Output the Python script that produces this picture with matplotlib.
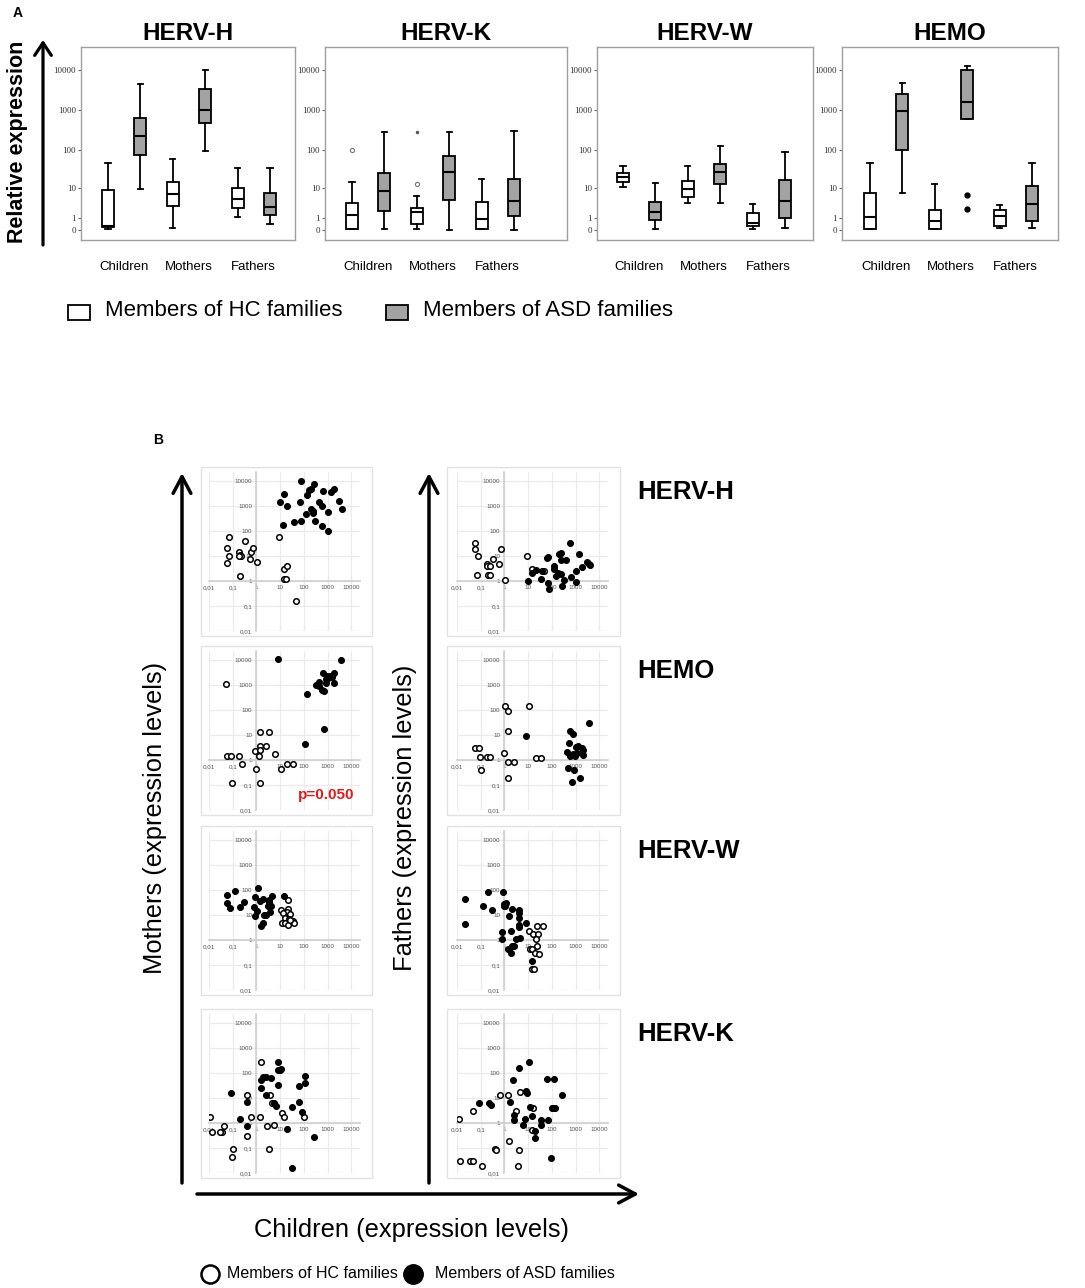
import numpy as np
import matplotlib
matplotlib.use('Agg')
import matplotlib.pyplot as plt
from matplotlib.patches import Rectangle, FancyArrowPatch
from matplotlib.lines import Line2D
from matplotlib.ticker import NullLocator

W, H = 1085, 1288
plt.rcParams['font.family'] = ['Liberation Sans', 'DejaVu Sans']

# ---------------- data: panel A (box stats: whislo, q1, med, q3, whishi) ----------------
groups = ['Children', 'Mothers', 'Fathers']
box_titles = ['HERV-H', 'HERV-K', 'HERV-W', 'HEMO']
# order: HC child, ASD child, HC mother, ASD mother, HC father, ASD father
herv_h_box = [[0.06, 0.19, 0.26, 9.0, 46], [9.6, 74, 223, 630, 4470],
              [0.12, 3.0, 6.9, 14.8, 58], [93, 472, 1000, 3350, 10000],
              [1.1, 2.5, 5.0, 10.2, 34], [0.41, 1.37, 2.76, 7.4, 34]]
herv_k_box = [[0.06, 0.06, 1.37, 3.7, 14.8], [0.06, 2.0, 8.4, 25.6, 281],
              [0.06, 0.41, 1.82, 2.55, 6.1], [0.0, 4.6, 27, 70, 281],
              [0.06, 0.06, 0.88, 4.0, 17.8], [0.0, 1.24, 4.3, 17.8, 298]]
herv_w_box = [[10.9, 14.8, 20.1, 25.6, 38.8], [0.06, 0.78, 1.8, 4.0, 14],
              [3.7, 5.7, 9.6, 15.8, 38.8], [3.7, 13.1, 27.2, 43.7, 125],
              [0.06, 0.26, 0.5, 1.66, 3.47], [0.12, 1.0, 4.3, 16.8, 88]]
hemo_box = [[0.06, 0.06, 1.11, 7.4, 46], [7.4, 99, 943, 2510, 4730],
            [0.06, 0.06, 0.68, 2.16, 13.1], [595, 595, 1585, 10000, 12600],
            [0.12, 0.26, 1.24, 2.16, 3.2], [0.12, 0.68, 3.47, 11.6, 46]]
herv_h_fliers = [[], [], [], [], [], []]
herv_k_fliers = [[100], [], [13.2], [], [], []]
herv_k_far = [[], [], [281], [], [], []]  # far outliers, drawn as tiny dots
herv_w_fliers = [[], [], [], [], [], []]
hemo_fliers = [[], [], [], [6.5, 2.35], [], []]
box_ticks = [0, 1, 10, 100, 1000, 10000]

# ---------------- data: panel B (x = children, y = parent) ----------------
hervh_m_hc = [(0.07, 57), (0.058, 21), (0.068, 10), (0.058, 5.2), (0.32, 40), (0.19, 15), (0.2, 11),
              (0.22, 10), (0.18, 10), (0.56, 15), (0.72, 21), (0.52, 7.8), (1.03, 5.9), (0.21, 1.6),
              (8.8, 57), (14.8, 3.1), (19.8, 3.9), (14.8, 1.24), (17.9, 1.24), (46, 0.16)]
hervh_m_asd = [(72, 10000), (265, 7800), (15, 3000), (9.4, 1450), (20, 970), (13, 174), (39, 223),
               (75, 260), (70, 1450), (138, 2700), (158, 4300), (192, 4800), (121, 480), (198, 780),
               (233, 650), (247, 525), (290, 260), (417, 1450), (590, 970), (655, 4100), (560, 154),
               (980, 575), (1070, 97), (1380, 3530), (1860, 4800), (3100, 1540), (3900, 740)]
hemo_m_hc = [(0.05, 1080), (0.058, 1.5), (0.088, 1.5), (0.18, 1.5), (0.24, 0.67), (0.094, 0.12),
             (0.88, 2.3), (1.38, 12.6), (3.3, 12.6), (1.34, 3.7), (1.38, 2.4), (1.25, 1.5), (2.6, 3.5),
             (6.1, 1.7), (1.0, 0.45), (1.34, 0.12), (10.3, 0.45), (20, 0.67), (34, 0.67)]
hemo_m_asd = [(8, 11300), (3550, 10000), (130, 455), (114, 4.4), (720, 17), (320, 1000), (430, 1300),
              (610, 3100), (590, 660), (720, 560), (830, 1660), (910, 2270), (1070, 1940), (1300, 2270),
              (830, 1150), (1470, 2140), (1910, 3100), (1860, 1150), (440, 950)]
hervw_m_hc = [(20.4, 40), (10.6, 15.8), (21, 17), (20, 13), (13.4, 11.7), (24.7, 10.5), (15.8, 7.8),
              (22.5, 7.1), (11.4, 4.8), (16.3, 5), (21, 3.9), (35, 5.6), (39, 4.8), (25.6, 6.3)]
hervw_m_asd = [(0.058, 61), (0.058, 31), (0.08, 18.5), (0.13, 89), (0.21, 21), (0.3, 33), (0.77, 21),
               (0.83, 51), (1.18, 124), (0.88, 9.4), (1.07, 14.5), (1.43, 37), (1.86, 45), (1.6, 3.6),
               (1.8, 4.9), (2.0, 10.3), (2.5, 10.3), (3.1, 23.7), (3.4, 29), (3.3, 40), (3.3, 34),
               (4.3, 57), (3.8, 12.8), (4.0, 23), (14.2, 57)]
hervk_m_hc = [(1.48, 268), (0.38, 12.8), (3.7, 12.8), (4.3, 6.1), (12, 2.6), (14.8, 1.7), (100, 1.7),
              (0.58, 1.74), (1.38, 1.74), (0.011, 1.7), (0.044, 0.74), (0.035, 0.44), (0.03, 0.44),
              (0.013, 0.43), (2.8, 0.74), (5.6, 0.86), (0.4, 0.31), (0.1, 0.091), (0.097, 0.044),
              (3.3, 0.091)]
hervk_m_asd = [(8.2, 268), (7.7, 128), (9.7, 135), (11, 148), (1.5, 51), (1.8, 67), (2.5, 67), (3.9, 63),
               (1.6, 25), (8.2, 34), (59, 30), (110, 74), (115, 39), (0.083, 15.4), (0.38, 7.1),
               (2.4, 12.8), (5.6, 6.5), (6.6, 4.8), (32, 4.4), (63, 6.9), (85, 2.8), (0.2, 1.45),
               (0.38, 0.78), (18.5, 0.58), (257, 0.27), (31, 0.016)]

hervh_f_hc = [(0.059, 33), (0.059, 18.5), (0.076, 10), (0.069, 1.7), (0.32, 7.8), (0.72, 18.5),
              (0.19, 4.9), (0.19, 4.1), (0.24, 4.1), (0.2, 1.7), (0.24, 1.7), (0.56, 4.9), (1.1, 1.13),
              (8.7, 10), (14.6, 3.0), (45, 2.5)]
hervh_f_asd = [(9.6, 1.0), (15, 2.0), (21, 2.8), (35, 1.2), (37, 2.5), (63, 8.6), (71, 9.4), (71, 0.86),
               (76, 0.46), (119, 2.9), (127, 4), (155, 1.6), (181, 2.0), (200, 11.7), (250, 12.8),
               (240, 7.1), (240, 1.85), (267, 0.63), (315, 1.1), (405, 7.1), (560, 33), (634, 1.4),
               (1000, 2.4), (1070, 0.9), (1340, 12.4), (1800, 3.7), (3000, 5.9), (3550, 4.9), (3900, 4.4)]
hemo_f_hc = [(1.03, 149), (1.38, 91), (10.6, 149), (1.38, 15), (0.056, 3.1), (0.086, 3.1), (0.092, 1.32),
             (0.19, 1.3), (0.24, 1.3), (0.098, 0.41), (0.97, 1.9), (1.4, 0.8), (2.6, 0.8), (1.38, 0.19),
             (21, 1.24), (35, 1.24)]
hemo_f_asd = [(7.9, 9), (600, 14.7), (800, 11), (3550, 29), (510, 4.8), (435, 2), (600, 1.5), (780, 1.7),
              (1000, 3.2), (1260, 3.8), (1080, 1.85), (970, 1.5), (1860, 3), (2040, 2.4), (2040, 1.6),
              (480, 0.48), (830, 0.41), (700, 0.13), (1580, 0.19)]
hervw_f_hc = [(11, 2.3), (16, 1.8), (26, 1.8), (22.5, 3.5), (40, 3.5), (20.4, 1.13), (22.5, 0.58),
              (11.7, 0.45), (14.8, 0.45), (20, 0.31), (28, 0.28), (14, 0.069), (17, 0.069)]
hervw_f_asd = [(0.022, 44), (0.021, 4.2), (0.126, 23.7), (0.21, 83), (0.3, 16.3), (0.85, 86), (0.93, 27),
               (1.1, 23), (1.14, 29), (1.0, 23.7), (0.8, 2), (0.75, 1.07), (1.6, 9.4), (2.0, 17.4),
               (1.8, 2.3), (1.4, 0.44), (1.8, 0.31), (2.0, 0.58), (2.6, 0.58), (3.1, 1.1), (3.9, 15.8),
               (3.9, 12.4), (3.9, 7.4), (3.9, 3.9), (3.9, 3.2), (4.3, 1.24), (8.2, 4.6), (13.8, 0.15)]
hervk_f_hc = [(0.64, 13.2), (1.47, 13.2), (4.6, 17.8), (3.0, 3.1), (0.048, 3.1), (0.012, 1.4), (16, 3.9),
              (100, 3.9), (14.3, 0.52), (1.5, 0.19), (3.9, 0.081), (0.39, 0.093), (0.42, 0.081),
              (0.013, 0.03), (0.035, 0.03), (0.045, 0.03), (0.11, 0.019), (3.7, 0.019)]
hervk_f_asd = [(11, 283), (4.2, 158), (2.2, 52), (63, 56), (121, 59), (1.7, 6.9), (0.085, 6.3),
               (0.22, 6.3), (0.26, 5.4), (8.2, 18.5), (9.1, 15.8), (275, 13.2), (2.6, 2.1), (2.5, 1.36),
               (11.8, 4.4), (13.8, 1.85), (7.0, 1.5), (5.9, 0.81), (19, 0.49), (19, 0.25), (33, 1.36),
               (35, 0.81), (67, 1.28), (106, 3.9), (129, 4), (94, 0.041)]

scatter_rows = ['HERV-H', 'HEMO', 'HERV-W', 'HERV-K']
scatter_ticks = [0.01, 0.1, 1, 10, 100, 1000, 10000]
scatter_ticklabels = ['0,01', '0,1', '1', '10', '100', '1000', '10000']


def px_rect(l, t, r, b):
    return [l / W, 1 - b / H, (r - l) / W, (b - t) / H]


def fx(x):
    return x / W


def fy(y):
    return 1 - y / H


def fwd(v):
    return np.log10(np.clip(np.asarray(v, dtype=float) + 1, 1e-6, None))


def inv(v):
    return 10 ** np.asarray(v, dtype=float) - 1


def arrow(x1, y1, x2, y2, lw, hl, hw):
    fig.add_artist(FancyArrowPatch((fx(x1), fy(y1)), (fx(x2), fy(y2)), transform=fig.transFigure,
                                   arrowstyle='->,head_length=%g,head_width=%g' % (hl, hw),
                                   mutation_scale=20, lw=lw, color='k', shrinkA=0, shrinkB=0))


fig = plt.figure(figsize=(W / 100, H / 100), dpi=100)

# ---------------- panel A ----------------
box_data = [herv_h_box, herv_k_box, herv_w_box, hemo_box]
box_fliers = [herv_h_fliers, herv_k_fliers, herv_w_fliers, hemo_fliers]
flier_styles = [dict(marker='o', mfc='none', mec='#777777', ms=3, mew=0.8),
                dict(marker='o', mfc='none', mec='#777777', ms=3, mew=0.8),
                dict(marker='o', mfc='none', mec='#777777', ms=3, mew=0.8),
                dict(marker='o', mfc='k', mec='k', ms=3.5)]
box_px = [(81, 295, 108), (325, 567, 352), (597, 813, 623), (842, 1058, 870)]
spacing = 32.4
fills = ['white', '#a3a3a3']

for i in range(4):
    l, r, c0 = box_px[i]
    ax = fig.add_axes(px_rect(l, 47, r, 240))
    ax.set_yscale('function', functions=(fwd, inv))
    stats = []
    for row, fl in zip(box_data[i], box_fliers[i]):
        stats.append(dict(whislo=row[0], q1=row[1], med=row[2], q3=row[3], whishi=row[4], fliers=fl))
    bp = ax.bxp(stats, positions=range(1, 7), widths=0.37, capwidths=0.16, patch_artist=True,
                boxprops=dict(lw=1.3, edgecolor='k'), medianprops=dict(color='k', lw=1.5),
                whiskerprops=dict(lw=1.3), capprops=dict(lw=1.3), flierprops=flier_styles[i])
    for k, patch in enumerate(bp['boxes']):
        patch.set_facecolor(fills[k % 2])
    if i == 1:
        for k, far in enumerate(herv_k_far):
            if far:
                ax.plot([k + 1] * len(far), far, ls='none', marker='o', ms=1.5, color='#555555')
    ax.set_ylim(inv(-0.25), inv(4.575))
    ax.set_xlim(1 - (c0 - l) / spacing, 1 + (r - c0) / spacing)
    ax.yaxis.set_minor_locator(NullLocator())
    ax.set_yticks(box_ticks, [str(t) for t in box_ticks], fontfamily='Liberation Serif', fontsize=6.5,
                  color='#333333')
    ax.set_xticks([1.5, 3.5, 5.5], groups, fontsize=9.5)
    ax.tick_params(axis='x', length=0, pad=15)
    ax.tick_params(axis='y', length=2.5, width=0.8, color='#666666', pad=1)
    for s in ax.spines.values():
        s.set_color('#a0a0a0')
        s.set_linewidth(1)
    ax.set_title(box_titles[i], fontsize=17.5, fontweight='bold', pad=5)

fig.text(fx(18), fy(13), 'A', fontsize=10, fontweight='bold', ha='center', va='center')
fig.text(fx(18), fy(142), 'Relative expression', rotation=90, fontsize=15.5, fontweight='bold',
         ha='center', va='center')
arrow(43, 245, 43, 40, 2.3, 0.45, 0.3)

fig.add_artist(Rectangle((fx(68), fy(320)), fx(22), 15 / H, transform=fig.transFigure,
                         facecolor='white', edgecolor='k', lw=1.3))
fig.text(fx(105), fy(311), 'Members of HC families', fontsize=16, va='center')
fig.add_artist(Rectangle((fx(386), fy(320)), fx(22), 15 / H, transform=fig.transFigure,
                         facecolor='#a3a3a3', edgecolor='k', lw=1.3))
fig.text(fx(423), fy(311), 'Members of ASD families', fontsize=16, va='center')

# ---------------- panel B ----------------
mothers = [(hervh_m_hc, hervh_m_asd), (hemo_m_hc, hemo_m_asd), (hervw_m_hc, hervw_m_asd),
           (hervk_m_hc, hervk_m_asd)]
fathers = [(hervh_f_hc, hervh_f_asd), (hemo_f_hc, hemo_f_asd), (hervw_f_hc, hervw_f_asd),
           (hervk_f_hc, hervk_f_asd)]
col_px = [(209, 360), (457, 608)]
frame_px = [(201, 372), (447, 620)]
row_px = [481, 660, 840, 1023]  # pixel row of the 10000 grid line

for c, series in enumerate([mothers, fathers]):
    for r, (hc, asd) in enumerate(series):
        y0 = row_px[r]
        fl, fr = frame_px[c]
        fig.add_artist(Rectangle((fx(fl), fy(y0 + 155)), (fr - fl) / W, 169 / H,
                                 transform=fig.transFigure, fill=False, edgecolor='#e2e2e2', lw=1))
        l, rr = col_px[c]
        ax = fig.add_axes(px_rect(l, y0 - 9, rr, y0 + 150))
        ax.set_xscale('log')
        ax.set_yscale('log')
        ax.set_xlim(0.01, 10 ** 4.36)
        ax.set_ylim(0.01, 10 ** 4.36)
        hx, hy = np.array(hc).T
        ax.scatter(hx, hy, s=16, facecolors='white', edgecolors='k', linewidths=1.1, zorder=3)
        axx, axy = np.array(asd).T
        ax.scatter(axx, axy, s=18, facecolors='k', edgecolors='k', linewidths=0.8, zorder=3)
        ax.set_xticks(scatter_ticks, scatter_ticklabels)
        ax.set_yticks(scatter_ticks, scatter_ticklabels)
        ax.minorticks_off()
        ax.tick_params(length=0, labelsize=4.5, labelcolor='#555555', pad=3)
        ax.spines[['top', 'right']].set_visible(False)
        for side in ['left', 'bottom']:
            ax.spines[side].set_position(('data', 1))
            ax.spines[side].set_color('#cfcfcf')
            ax.spines[side].set_linewidth(1.2)
        ax.grid(True, color='#ebebeb', lw=0.9)
        ax.set_axisbelow(True)
        ax.patch.set_alpha(0)

for r, name in enumerate(scatter_rows):
    fig.text(fx(637), fy(row_px[r] + 11), name, fontsize=18.5, fontweight='bold', va='center')

fig.text(fx(326), fy(795), 'p=0.050', fontsize=11, fontweight='bold', color='#e41a1c',
         ha='center', va='center')
fig.text(fx(158), fy(440), 'B', fontsize=10, fontweight='bold', ha='center', va='center')

arrow(182, 1183, 182, 473, 2.5, 0.6, 0.32)
arrow(429, 1183, 429, 473, 2.5, 0.6, 0.32)
arrow(197, 1194, 639, 1194, 2.5, 0.6, 0.32)

fig.text(fx(155), fy(818), 'Mothers (expression levels)', rotation=90, fontsize=18.4,
         ha='center', va='center')
fig.text(fx(405), fy(818), 'Fathers (expression levels)', rotation=90, fontsize=18.4,
         ha='center', va='center')
fig.text(fx(412), fy(1230), 'Children (expression levels)', fontsize=18.4, ha='center', va='center')

fig.add_artist(Line2D([fx(210)], [fy(1274)], marker='o', ms=13, mfc='white', mec='k', mew=1.8,
                      transform=fig.transFigure))
fig.text(fx(227), fy(1274), 'Members of HC families', fontsize=11.5, va='center')
fig.add_artist(Line2D([fx(413)], [fy(1274)], marker='o', ms=14, mfc='k', mec='k',
                      transform=fig.transFigure))
fig.text(fx(435), fy(1274), 'Members of ASD families', fontsize=11.5, va='center')

fig.savefig('out.png', dpi=100)
